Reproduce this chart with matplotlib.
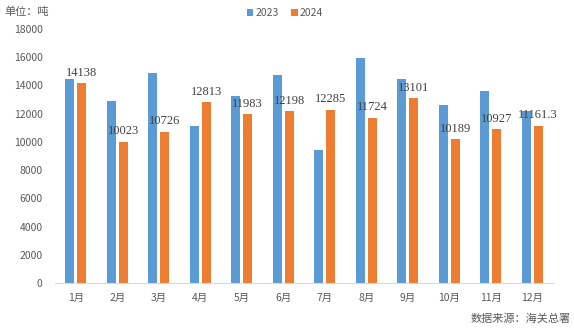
import numpy as np
import matplotlib
matplotlib.use('Agg')
from matplotlib import pyplot as plt

plt.rcParams['font.family'] = ['Noto Sans CJK SC', 'DejaVu Sans']

# data
months = ['1月', '2月', '3月', '4月', '5月', '6月', '7月', '8月', '9月', '10月', '11月', '12月']
v2023 = [14450, 12900, 14880, 11130, 13250, 14740, 9430, 15950, 14460, 12620, 13600, 12190]
v2024 = [14138, 10023, 10726, 12813, 11983, 12198, 12285, 11724, 13101, 10189, 10927, 11161.3]
labels2024 = ['14138', '10023', '10726', '12813', '11983', '12198', '12285', '11724', '13101', '10189', '10927', '11161.3']

blue = '#5b9bd5'
orange = '#ed7d31'
grey = '#595959'

fig = plt.figure(figsize=(5.74, 3.29), dpi=100)
ax = fig.add_axes([55 / 574, 1 - 283 / 329, 498 / 574, 254 / 329])

x = np.arange(len(months))
w = 0.215
ax.bar(x - 0.145, v2023, w, color=blue, label='2023')
bars = ax.bar(x + 0.145, v2024, w, color=orange, label='2024')

# value labels for 2024
for b, t in zip(bars, labels2024):
    ax.annotate(t, (b.get_x() + b.get_width() / 2, b.get_height()),
                xytext=(0, 3), textcoords='offset points', ha='center', va='bottom',
                fontsize=9, color='#404040', family='Liberation Serif')

ax.set_xlim(-0.5, 11.5)
ax.set_ylim(0, 18000)
ax.set_yticks(range(0, 18001, 2000))
ax.set_xticks(x)
ax.set_xticklabels(months)
ax.tick_params(length=0, labelsize=7.5, labelcolor=grey)
ax.tick_params(axis='x', pad=7)
ax.tick_params(axis='y', pad=9)
for s in ['top', 'right', 'left']:
    ax.spines[s].set_visible(False)
ax.spines['bottom'].set_color('#d9d9d9')

ax.legend(loc='upper center', bbox_to_anchor=(0.462, 1.12), ncol=2, frameon=False,
          fontsize=7.5, handlelength=0.6, handleheight=0.6, handletextpad=0.2,
          columnspacing=1.2, labelcolor=grey)

fig.text(4 / 574, 1 - 12 / 329, '单位：吨', fontsize=8, color=grey, va='center', ha='left')
fig.text(571 / 574, 1 - 319 / 329, '数据来源：海关总署', fontsize=8, color=grey, va='center', ha='right')

fig.savefig('out.png', dpi=100)
